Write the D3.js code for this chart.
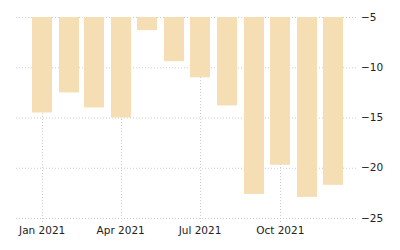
<!DOCTYPE html>
<html><head><meta charset="utf-8">
<script src="https://cdn.jsdelivr.net/npm/d3@7"></script>
<style>body{margin:0;background:#fff}svg{display:block}text{font-family:"DejaVu Sans",sans-serif;font-size:10.5px;fill:#222}</style>
</head><body>
<svg id="c" width="400" height="250"></svg>
<script>
const months = ["2021-01-01","2021-02-01","2021-03-01","2021-04-01","2021-05-01","2021-06-01","2021-07-01","2021-08-01","2021-09-01","2021-10-01","2021-11-01","2021-12-01"];
const values = [-14.5,-12.5,-14.0,-15.0,-6.3,-9.4,-11.0,-13.8,-22.6,-19.7,-22.9,-21.7];
const yTicks = [-5,-10,-15,-20,-25];
const xTickDates = ["2021-01-01","2021-04-01","2021-07-01","2021-10-01"];
const xTickLabels = ["Jan 2021","Apr 2021","Jul 2021","Oct 2021"];

(function () {
const parse = d3.utcParse("%Y-%m-%d");
const svg = d3.select("#c");
const mL = 16, mR = 357, mT = 17, mB = 218;
const x = d3.scaleUtc().domain([parse("2020-12-02"), parse("2021-12-28")]).range([mL, mR]);
const y = d3.scaleLinear().domain([-25, -5]).range([mB, mT]);

const grid = svg.append("g");
grid.selectAll("line.h").data(yTicks).join("line")
  .attr("x1", mL).attr("x2", mR)
  .attr("y1", d => y(d) + 0.5).attr("y2", d => y(d) + 0.5)
  .attr("stroke", "#ccc").attr("stroke-dasharray", "1,2");
grid.selectAll("line.v").data(xTickDates).join("line")
  .attr("x1", d => Math.round(x(parse(d))) + 0.5).attr("x2", d => Math.round(x(parse(d))) + 0.5)
  .attr("y1", mT).attr("y2", mB + 5)
  .attr("stroke", "#ccc").attr("stroke-dasharray", "1,2");

const bw = 20;
svg.append("g").selectAll("rect").data(months.map((m, i) => ({m: parse(m), v: values[i]}))).join("rect")
  .attr("x", d => Math.round(x(d.m) - bw / 2))
  .attr("width", bw)
  .attr("y", y(y.domain()[1]))
  .attr("height", d => y(d.v) - y(y.domain()[1]))
  .attr("fill", "#f5deb3");

svg.append("g").selectAll("text").data(yTicks).join("text")
  .attr("x", mR + 4).attr("y", d => y(d)).attr("dy", "0.35em")
  .text(d => d3.format("d")(d));

svg.append("g").selectAll("text").data(xTickDates).join("text")
  .attr("x", d => x(parse(d))).attr("y", 234).attr("text-anchor", "middle")
  .text((d, i) => xTickLabels[i]);
})();
</script>
</body></html>
